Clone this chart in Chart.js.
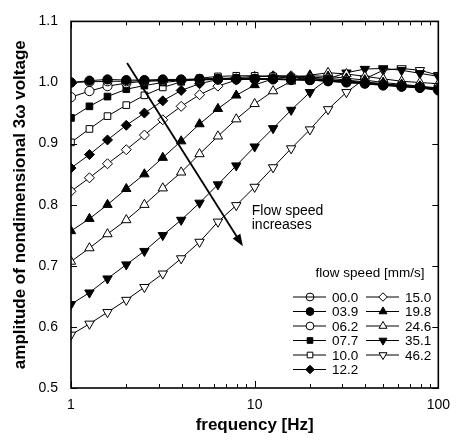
<!DOCTYPE html>
<html>
<head>
<meta charset="utf-8">
<script src="https://cdn.jsdelivr.net/npm/chart.js"></script>
<style>
  html, body { margin: 0; padding: 0; background: #fff; }
</style>
</head>
<body>
<canvas id="chart" width="459" height="443"></canvas>
<script>
// frequency [Hz], 10 points per decade
const frequencies = [1, 1.26, 1.58, 2, 2.51, 3.16, 3.98, 5.01, 6.31, 7.94, 10,
    12.6, 15.8, 20, 25.1, 31.6, 39.8, 50.1, 63.1, 79.4, 100];

const speedLabels = ["00.0", "03.9", "06.2", "07.7", "10.0", "12.2", "15.0", "19.8", "24.6", "35.1", "46.2"];

const amp000 = [1.000, 1.001, 1.002, 1.002, 1.003, 1.003, 1.004, 1.004, 1.005, 1.005, 1.005, 1.005, 1.004, 1.004, 1.003, 1.001, 0.999, 0.996, 0.994, 0.992, 0.988];
const amp039 = [1.000, 1.003, 1.005, 1.004, 1.004, 1.005, 1.005, 1.006, 1.006, 1.006, 1.006, 1.006, 1.005, 1.004, 1.002, 1.000, 0.998, 0.995, 0.993, 0.991, 0.987];
const amp062 = [0.976, 0.986, 0.994, 0.999, 1.002, 1.003, 1.004, 1.005, 1.005, 1.006, 1.006, 1.006, 1.005, 1.004, 1.003, 1.001, 0.999, 0.996, 0.994, 0.992, 0.989];
const amp077 = [0.942, 0.961, 0.977, 0.989, 0.995, 1.000, 1.003, 1.005, 1.007, 1.007, 1.007, 1.006, 1.005, 1.004, 1.002, 1.000, 0.998, 0.996, 0.994, 0.992, 0.989];
const amp100 = [0.902, 0.924, 0.945, 0.963, 0.979, 0.992, 1.001, 1.007, 1.010, 1.011, 1.011, 1.010, 1.008, 1.006, 1.004, 1.002, 1.000, 0.997, 0.995, 0.993, 0.990];
const amp122 = [0.860, 0.882, 0.906, 0.930, 0.950, 0.970, 0.987, 0.998, 1.005, 1.008, 1.010, 1.010, 1.009, 1.007, 1.005, 1.002, 1.000, 0.997, 0.995, 0.993, 0.990];
const amp150 = [0.822, 0.844, 0.867, 0.890, 0.914, 0.939, 0.961, 0.980, 0.994, 1.004, 1.009, 1.011, 1.011, 1.009, 1.007, 1.004, 1.001, 0.998, 0.995, 0.993, 0.990];
const amp198 = [0.757, 0.777, 0.800, 0.826, 0.850, 0.877, 0.904, 0.932, 0.957, 0.979, 0.996, 1.006, 1.010, 1.011, 1.010, 1.007, 1.004, 1.000, 0.997, 0.994, 0.991];
const amp246 = [0.707, 0.729, 0.752, 0.775, 0.800, 0.827, 0.853, 0.883, 0.912, 0.940, 0.965, 0.986, 1.002, 1.012, 1.016, 1.014, 1.010, 1.006, 1.002, 1.000, 0.998];
const amp351 = [0.637, 0.656, 0.679, 0.702, 0.724, 0.750, 0.775, 0.803, 0.833, 0.864, 0.895, 0.925, 0.955, 0.984, 1.006, 1.016, 1.022, 1.023, 1.020, 1.015, 1.010];
const amp462 = [0.587, 0.605, 0.624, 0.644, 0.665, 0.687, 0.712, 0.739, 0.772, 0.799, 0.829, 0.861, 0.892, 0.923, 0.956, 0.984, 1.006, 1.020, 1.023, 1.020, 1.012];

const yTicks = [0.5, 0.6, 0.7, 0.8, 0.9, 1.0, 1.1];
const xTickLabels = [1, 10, 100];

// arrow "Flow speed increases" in data units [frequency, amplitude]
const arrowFrom = [2.02, 1.032];
const arrowTo = [8.63, 0.732];
const noteAt = [9.64, 0.79];

const allAmps = [amp000, amp039, amp062, amp077, amp100, amp122, amp150, amp198, amp246, amp351, amp462];
const markers = [
    {style: "circle", fill: "rgba(0,0,0,0)", r: 4.6, rot: 0},
    {style: "circle", fill: "#000", r: 4.6, rot: 0},
    {style: "circle", fill: "#fff", r: 4.6, rot: 0},
    {style: "rect", fill: "#000", r: 4.7, rot: 0},
    {style: "rect", fill: "#fff", r: 4.7, rot: 0},
    {style: "rectRot", fill: "#000", r: 5, rot: 0},
    {style: "rectRot", fill: "#fff", r: 5, rot: 0},
    {style: "triangle", fill: "#000", r: 5.4, rot: 0},
    {style: "triangle", fill: "#fff", r: 5.4, rot: 0},
    {style: "triangle", fill: "#000", r: 5.4, rot: 180},
    {style: "triangle", fill: "#fff", r: 5.4, rot: 180},
];

const FONT = "'Liberation Sans', Arial, Helvetica, sans-serif";

var datasets = allAmps.map(function (amps, i) {
    const m = markers[i];
    return {
        label: speedLabels[i],
        data: amps.map(function (v, k) { return {x: frequencies[k], y: v}; }),
        borderColor: "#000",
        borderWidth: 1,
        pointStyle: m.style,
        pointRadius: m.r,
        pointRotation: m.rot,
        pointBackgroundColor: m.fill,
        pointBorderColor: "#000",
        pointBorderWidth: 1,
        tension: 0,
    };
});

const frame = {
    id: "frame",
    afterDraw(chart) {
        const {ctx, chartArea: a, scales: {x, y}} = chart;
        ctx.save();
        ctx.strokeStyle = "#000";
        ctx.lineWidth = 1;
        ctx.beginPath();
        for (let d = 1; d <= 100; d *= 10) {
            for (let m = 1; m < 10; m++) {
                const v = d * m;
                if (v > 100) break;
                const px = Math.round(x.getPixelForValue(v)) + 0.5;
                const len = m === 1 ? 7 : 4;
                ctx.moveTo(px, a.bottom); ctx.lineTo(px, a.bottom - len);
                ctx.moveTo(px, a.top); ctx.lineTo(px, a.top + len);
            }
        }
        yTicks.forEach(function (t) {
            const py = Math.round(y.getPixelForValue(t)) + 0.5;
            ctx.moveTo(a.left, py); ctx.lineTo(a.left + 6, py);
            ctx.moveTo(a.right, py); ctx.lineTo(a.right - 6, py);
        });
        ctx.stroke();
        ctx.lineWidth = 1.6;
        ctx.strokeRect(a.left, a.top, a.right - a.left, a.bottom - a.top);
        ctx.restore();
    }
};

const note = {
    id: "note",
    afterDatasetsDraw(chart) {
        const {ctx, scales: {x, y}} = chart;
        const x0 = x.getPixelForValue(arrowFrom[0]), y0 = y.getPixelForValue(arrowFrom[1]);
        const x1 = x.getPixelForValue(arrowTo[0]), y1 = y.getPixelForValue(arrowTo[1]);
        const ang = Math.atan2(y1 - y0, x1 - x0);
        ctx.save();
        ctx.strokeStyle = "#000";
        ctx.fillStyle = "#000";
        ctx.lineWidth = 1.8;
        ctx.beginPath();
        ctx.moveTo(x0, y0);
        ctx.lineTo(x1 - 8 * Math.cos(ang), y1 - 8 * Math.sin(ang));
        ctx.stroke();
        ctx.beginPath();
        ctx.moveTo(x1, y1);
        ctx.lineTo(x1 - 12 * Math.cos(ang) + 4.5 * Math.sin(ang), y1 - 12 * Math.sin(ang) - 4.5 * Math.cos(ang));
        ctx.lineTo(x1 - 12 * Math.cos(ang) - 4.5 * Math.sin(ang), y1 - 12 * Math.sin(ang) + 4.5 * Math.cos(ang));
        ctx.closePath();
        ctx.fill();
        ctx.font = "14px " + FONT;
        ctx.textBaseline = "middle";
        ctx.textAlign = "left";
        const tx = x.getPixelForValue(noteAt[0]), ty = y.getPixelForValue(noteAt[1]);
        ctx.fillText("Flow speed", tx, ty);
        ctx.fillText("increases", tx, ty + 14);
        ctx.restore();
    }
};

const speedLegend = {
    id: "speedLegend",
    afterDraw(chart) {
        const ctx = chart.ctx;
        ctx.save();
        ctx.fillStyle = "#000";
        ctx.font = "13.5px " + FONT;
        ctx.textAlign = "center";
        ctx.textBaseline = "middle";
        ctx.fillText("flow speed [mm/s]", 370, 273);
        ctx.textAlign = "left";
        chart.data.datasets.forEach(function (ds, i) {
            const col = i < 6 ? 0 : 1;
            const row = i < 6 ? i : i - 6;
            const lx = col === 0 ? 293 : 366;
            const ly = 297 + row * 14.5;
            ctx.strokeStyle = "#000";
            ctx.lineWidth = 1;
            ctx.beginPath();
            ctx.moveTo(lx, ly); ctx.lineTo(lx + 33, ly);
            ctx.stroke();
            ctx.fillStyle = ds.pointBackgroundColor;
            ctx.lineWidth = 1;
            Chart.helpers.drawPoint(ctx, {
                pointStyle: ds.pointStyle, radius: ds.pointRadius * 0.85,
                rotation: ds.pointRotation, borderWidth: 1
            }, lx + 17, ly);
            ctx.fillStyle = "#000";
            ctx.fillText(ds.label, lx + 39, ly + 1);
        });
        ctx.restore();
    }
};

new Chart(document.getElementById("chart"), {
    type: "line",
    data: {datasets: datasets},
    plugins: [frame, note, speedLegend],
    options: {
        responsive: false,
        animation: false,
        layout: {padding: {left: 0, right: 14, top: 17, bottom: 0}},
        plugins: {legend: {display: false}, tooltip: {enabled: false}},
        scales: {
            x: {
                type: "logarithmic",
                min: 1,
                max: 100,
                afterFit: function (s) { s.height = 55; },
                grid: {display: false, drawTicks: false},
                border: {display: false},
                ticks: {
                    autoSkip: false,
                    maxRotation: 0,
                    padding: 9,
                    color: "#000",
                    font: {family: FONT, size: 14},
                    callback: function (v) { return xTickLabels.indexOf(v) >= 0 ? String(v) : ""; },
                },
                title: {
                    display: true,
                    text: "frequency [Hz]",
                    color: "#000",
                    font: {family: FONT, size: 17, weight: "bold"},
                    padding: {top: 0, bottom: 7},
                },
            },
            y: {
                min: 0.5,
                max: 1.1,
                afterFit: function (s) { s.width = 71; },
                afterBuildTicks: function (s) { s.ticks = yTicks.map(function (v) { return {value: v}; }); },
                grid: {display: false, drawTicks: false},
                border: {display: false},
                ticks: {
                    padding: 13,
                    color: "#000",
                    font: {family: FONT, size: 14},
                    callback: function (v) { return v.toFixed(1); },
                },
                title: {
                    display: true,
                    text: "amplitude of nondimensional 3ω voltage",
                    color: "#000",
                    font: {family: FONT, size: 17, weight: "bold"},
                    padding: {top: 10, bottom: 0},
                },
            },
        },
    },
});
</script>
</body>
</html>
